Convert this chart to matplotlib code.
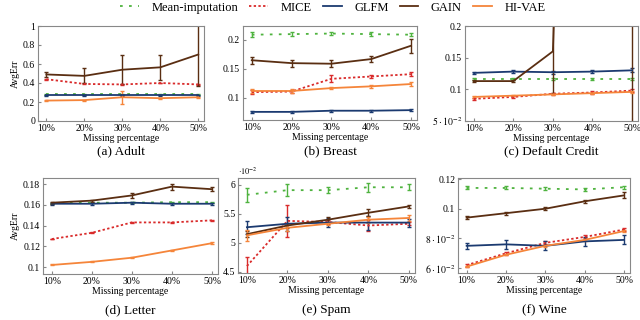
import matplotlib
matplotlib.use("Agg")
import matplotlib.pyplot as plt

plt.rcParams["font.family"] = ["Liberation Serif", "DejaVu Serif"]
plt.rcParams["mathtext.fontset"] = "stix"

pct = [10, 20, 30, 40, 50]
pct_labels = ["10%", "20%", "30%", "40%", "50%"]
methods = ["Mean-imputation", "MICE", "GLFM", "GAIN", "HI-VAE"]

# mean values and error half-widths per dataset
adult_val = {
    "Mean-imputation": [0.28, 0.28, 0.28, 0.28, 0.28],
    "MICE": [0.44, 0.39, 0.385, 0.40, 0.385],
    "GLFM": [0.27, 0.27, 0.27, 0.27, 0.27],
    "GAIN": [0.49, 0.475, 0.54, 0.565, 0.70],
    "HI-VAE": [0.215, 0.22, 0.25, 0.24, 0.25],
}
adult_err = {
    "Mean-imputation": [0.005, 0.005, 0.005, 0.005, 0.005],
    "MICE": [0.005, 0.005, 0.005, 0.005, 0.005],
    "GLFM": [0.005, 0.005, 0.005, 0.005, 0.005],
    "GAIN": [0.03, 0.08, 0.155, 0.135, 0.33],
    "HI-VAE": [0.005, 0.005, 0.07, 0.005, 0.005],
}

breast_val = {
    "Mean-imputation": [0.209, 0.210, 0.211, 0.210, 0.209],
    "MICE": [0.110, 0.111, 0.133, 0.137, 0.141],
    "GLFM": [0.076, 0.076, 0.078, 0.078, 0.079],
    "GAIN": [0.165, 0.160, 0.159, 0.167, 0.190],
    "HI-VAE": [0.112, 0.112, 0.117, 0.120, 0.124],
}
breast_err = {
    "Mean-imputation": [0.004, 0.004, 0.002, 0.003, 0.003],
    "MICE": [0.003, 0.003, 0.006, 0.003, 0.003],
    "GLFM": [0.002, 0.002, 0.002, 0.002, 0.002],
    "GAIN": [0.006, 0.006, 0.006, 0.005, 0.012],
    "HI-VAE": [0.004, 0.003, 0.002, 0.003, 0.003],
}

credit_val = {
    "Mean-imputation": [0.116, 0.116, 0.116, 0.116, 0.116],
    "MICE": [0.085, 0.088, 0.093, 0.095, 0.098],
    "GLFM": [0.126, 0.128, 0.127, 0.128, 0.130],
    "GAIN": [0.113, 0.113, 0.160, 2.0, 1.0],
    "HI-VAE": [0.088, 0.090, 0.092, 0.094, 0.096],
}
credit_err = {
    "Mean-imputation": [0.002, 0.002, 0.002, 0.002, 0.002],
    "MICE": [0.002, 0.002, 0.002, 0.002, 0.002],
    "GLFM": [0.002, 0.002, 0.002, 0.002, 0.003],
    "GAIN": [0.002, 0.002, 0.065, 0.5, 1.0],
    "HI-VAE": [0.001, 0.001, 0.001, 0.001, 0.001],
}

letter_val = {
    "Mean-imputation": [0.1615, 0.162, 0.162, 0.1625, 0.1625],
    "MICE": [0.127, 0.133, 0.143, 0.143, 0.145],
    "GLFM": [0.161, 0.161, 0.162, 0.161, 0.161],
    "GAIN": [0.162, 0.164, 0.169, 0.1775, 0.175],
    "HI-VAE": [0.102, 0.105, 0.109, 0.116, 0.123],
}
letter_err = {
    "Mean-imputation": [0.0005, 0.0005, 0.0005, 0.0005, 0.0005],
    "MICE": [0.0003, 0.0003, 0.0003, 0.0003, 0.0003],
    "GLFM": [0.0008, 0.0008, 0.0008, 0.0008, 0.0008],
    "GAIN": [0.001, 0.001, 0.002, 0.003, 0.002],
    "HI-VAE": [0.0005, 0.0005, 0.0005, 0.0008, 0.0008],
}

# Spam values are in units of 1e-2
spam_val = {
    "Mean-imputation": [5.83, 5.91, 5.91, 5.96, 5.96],
    "MICE": [4.60, 5.38, 5.36, 5.30, 5.33],
    "GLFM": [5.27, 5.33, 5.35, 5.35, 5.35],
    "GAIN": [5.15, 5.30, 5.40, 5.52, 5.63],
    "HI-VAE": [5.13, 5.26, 5.33, 5.40, 5.43],
}
spam_err = {
    "Mean-imputation": [0.12, 0.10, 0.05, 0.08, 0.05],
    "MICE": [0.15, 0.28, 0.04, 0.10, 0.03],
    "GLFM": [0.11, 0.12, 0.08, 0.12, 0.07],
    "GAIN": [0.05, 0.05, 0.05, 0.06, 0.03],
    "HI-VAE": [0.10, 0.05, 0.03, 0.05, 0.05],
}

wine_val = {
    "Mean-imputation": [0.114, 0.114, 0.1135, 0.113, 0.1145],
    "MICE": [0.062, 0.070, 0.077, 0.081, 0.086],
    "GLFM": [0.075, 0.076, 0.075, 0.078, 0.079],
    "GAIN": [0.094, 0.097, 0.100, 0.105, 0.109],
    "HI-VAE": [0.061, 0.069, 0.075, 0.079, 0.085],
}
wine_err = {
    "Mean-imputation": [0.001, 0.001, 0.001, 0.001, 0.001],
    "MICE": [0.001, 0.001, 0.001, 0.001, 0.001],
    "GLFM": [0.002, 0.003, 0.003, 0.003, 0.003],
    "GAIN": [0.001, 0.001, 0.001, 0.001, 0.002],
    "HI-VAE": [0.0005, 0.0005, 0.0005, 0.0005, 0.0005],
}

colors = {
    "Mean-imputation": "#4fb33f",
    "MICE": "#d92b2b",
    "GLFM": "#1b3a70",
    "GAIN": "#5a2e12",
    "HI-VAE": "#f5853a",
}
dashes = {
    "Mean-imputation": (1.5, 3.5),
    "MICE": (1.3, 1.3),
}


def px(l, t, r, b):
    # pixel box -> figure fraction for a 640x320 canvas
    return [l / 640, 1 - b / 320, (r - l) / 640, (b - t) / 320]


fig = plt.figure(figsize=(6.4, 3.2), dpi=100)

panels = [
    ("(a) Adult", adult_val, adult_err, px(38, 26, 204, 121), (0, 1.0),
     [0, 0.2, 0.4, 0.6, 0.8, 1.0], ["0", "0.2", "0.4", "0.6", "0.8", "1"], True),
    ("(b) Breast", breast_val, breast_err, px(243, 26, 417, 120), (0.062, 0.224),
     [0.1, 0.15, 0.2], ["0.1", "0.15", "0.2"], False),
    ("(c) Default Credit", credit_val, credit_err, px(465, 26, 638, 121), (0.05, 0.2),
     [0.05, 0.1, 0.15, 0.2], [r"$5\cdot10^{-2}$", "0.1", "0.15", "0.2"], False),
    ("(d) Letter", letter_val, letter_err, px(43, 178, 218, 274), (0.0933, 0.1858),
     [0.1, 0.12, 0.14, 0.16, 0.18], ["0.1", "0.12", "0.14", "0.16", "0.18"], True),
    ("(e) Spam", spam_val, spam_err, px(238, 178, 415, 273), (4.48, 6.12),
     [4.5, 5, 5.5, 6], ["4.5", "5", "5.5", "6"], False),
    ("(f) Wine", wine_val, wine_err, px(458, 178, 630, 273), (0.0567, 0.1207),
     [0.06, 0.08, 0.1, 0.12], [r"$6\cdot10^{-2}$", r"$8\cdot10^{-2}$", "0.1", "0.12"], False),
]

handles = []
for title, vals, errs, box, ylim, yt, ytl, show_ylabel in panels:
    ax = fig.add_axes(box)
    for m in methods:
        eb = ax.errorbar(pct, vals[m], yerr=errs[m], color=colors[m], lw=1.3,
                         elinewidth=1.0, capsize=1.5, capthick=1.0)
        if m in dashes:
            eb.lines[0].set_dashes(dashes[m])
        if title.startswith("(a)"):
            handles.append(eb.lines[0])
    ax.set_xlim(7.8, 51.5)
    ax.set_ylim(*ylim)
    ax.set_xticks(pct)
    ax.set_xticklabels(pct_labels)
    ax.set_yticks(yt)
    ax.set_yticklabels(ytl)
    ax.tick_params(labelsize=7, direction="in", length=2, color="#888888", pad=2)
    for s in ax.spines.values():
        s.set_color("#888888")
        s.set_linewidth(0.8)
    ax.set_xlabel("Missing percentage", fontsize=7, labelpad=1)
    if show_ylabel:
        ax.set_ylabel("AvgErr", fontsize=7, labelpad=2)
    # caption centre: ~30 px below the top-row axes, ~36 px below the bottom row
    cap_y = 151 if box[1] > 0.5 else 310
    cx = (box[0] + box[2] / 2)
    fig.text(cx, 1 - cap_y / 320, title, ha="center", va="center", fontsize=9.5)
    if title.startswith("(e)"):
        ax.text(0.0, 1.01, r"$\cdot10^{-2}$", transform=ax.transAxes, ha="left",
                va="bottom", fontsize=6)

fig.legend(handles, methods, loc="upper center", bbox_to_anchor=(0.52, 1.03),
           ncol=5, frameon=False, fontsize=9, handlelength=1.5, columnspacing=0.9,
           handletextpad=1.0)

fig.savefig("out.png", dpi=100)
